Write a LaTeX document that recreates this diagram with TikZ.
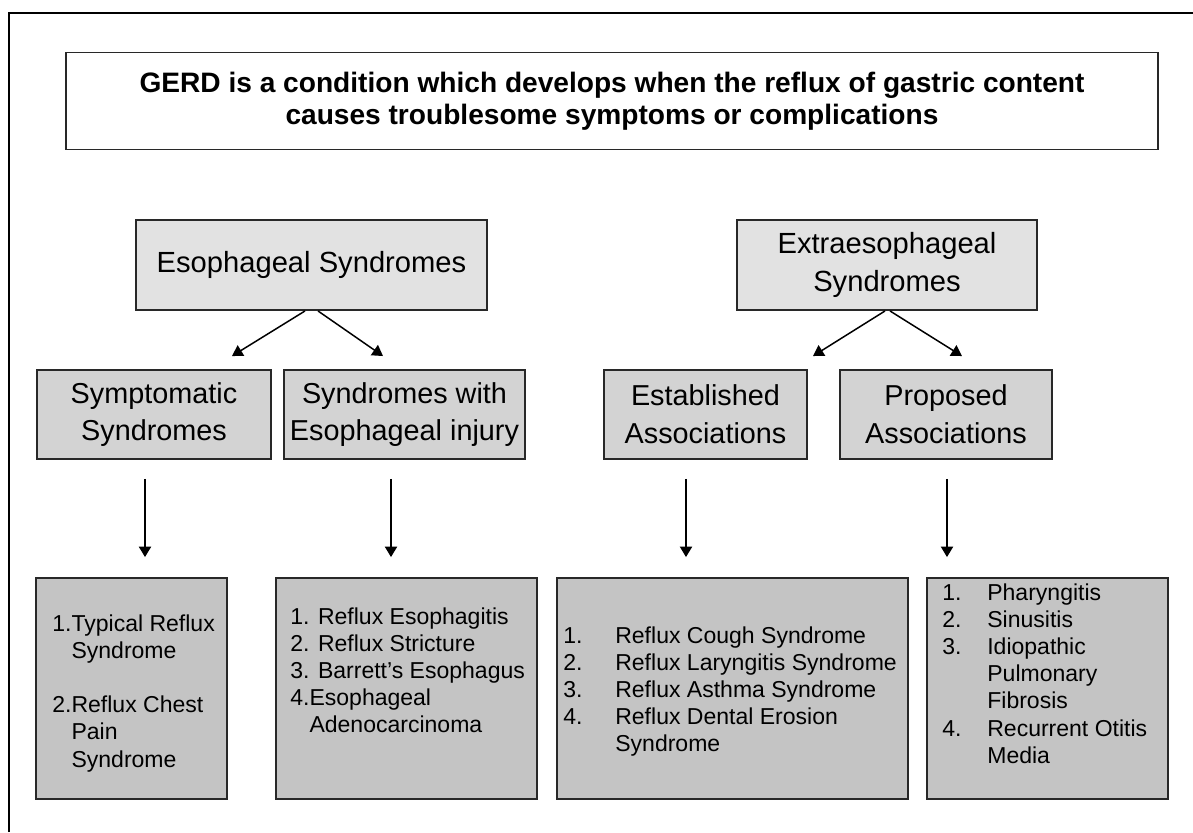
\documentclass[tikz,border=0pt]{standalone}
\usepackage{fontspec}
\setmainfont{Liberation Sans}
\usetikzlibrary{positioning,calc,arrows.meta}
\definecolor{TopGray}{RGB}{226,226,226}
\definecolor{MidGray}{RGB}{211,211,211}
\definecolor{LowGray}{RGB}{196,196,196}
\definecolor{EdgeGray}{RGB}{40,40,40}
\tikzset{
	frame/.style={draw=black,line width=1.7pt},
	headbox/.style={draw=EdgeGray,line width=1.1pt,fill=white,minimum width=21.84cm,minimum height=1.94cm,
		align=center,font=\fontsize{16}{18.3}\selectfont\bfseries},
	groupbox/.style={draw=EdgeGray,line width=1.1pt,fill=TopGray,minimum height=1.8cm,align=center,
		font=\fontsize{16.6}{21.5}\selectfont},
	kindbox/.style={draw=EdgeGray,line width=1.1pt,fill=MidGray,minimum height=1.78cm,align=center,
		font=\fontsize{16.4}{21.5}\selectfont},
	listbox/.style={draw=EdgeGray,line width=1.1pt,fill=LowGray,minimum height=4.42cm},
	listtext/.style={inner sep=0pt,anchor=base west,align=left,font=\fontsize{13.1}{15.5}\selectfont},
	arr/.style={draw=black,line width=0.85pt,-{Triangle[width=7pt,length=6pt]}},
}

\begin{document}
\begin{tikzpicture}[x=0.02cm,y=-0.02cm]
	\useasboundingbox (0,0) rectangle (1193,832);
	\draw[frame] (9,832) -- (9,13) -- (1193,13);
	% definition
	\node[headbox] (gerd) at (612,101) {GERD is a condition which develops when the reflux of gastric content\\causes troublesome symptoms or complications};
	% syndrome groups
	\node[groupbox,minimum width=7.02cm] (eso) at (311.5,265) {Esophageal Syndromes};
	\node[groupbox,minimum width=6cm] (extra) at (887,265) {Extraesophageal\\Syndromes};
	\node[kindbox,minimum width=4.68cm] (symp) at (154,414.5) {Symptomatic\\Syndromes};
	\node[kindbox,minimum width=4.7cm] (inj) at (404.5,414.5) {Syndromes with\\Esophageal injury};
	\node[kindbox,minimum width=4.06cm] (est) at (705.5,414.5) {Established\\Associations};
	\node[kindbox,minimum width=4.24cm] (prop) at (946,414.5) {Proposed\\Associations};
	% lists
	\node[listbox,minimum width=3.82cm] (sympList) at (131.5,688.5) {};
	\node[listbox,minimum width=5.22cm] (injList) at (406.5,688.5) {};
	\node[listbox,minimum width=7.02cm] (estList) at (732.5,688.5) {};
	\node[listbox,minimum width=4.82cm] (propList) at (1047.5,688.5) {};
	\node[listtext] (sympItems) at (52,631) {\begin{tabular}[t]{@{}l@{}l@{}}
		1.&Typical Reflux\\&Syndrome\\&\\
		2.&Reflux Chest\\&Pain\\&Syndrome\end{tabular}};
	\node[listtext] (injItems) at (290,624) {\begin{tabular}[t]{@{}l@{}l@{}}
		\multicolumn{2}{@{}l@{}}{1. Reflux Esophagitis}\\
		\multicolumn{2}{@{}l@{}}{2. Reflux Stricture}\\
		\multicolumn{2}{@{}l@{}}{3. Barrett's Esophagus}\\
		4.&Esophageal\\&Adenocarcinoma\end{tabular}};
	\node[listtext] (estItems) at (563,643) {\begin{tabular}[t]{@{}p{1.04cm}@{}l@{}}
		1.&Reflux Cough Syndrome\\
		2.&Reflux Laryngitis Syndrome\\
		3.&Reflux Asthma Syndrome\\
		4.&Reflux Dental Erosion\\&Syndrome\end{tabular}};
	\node[listtext] (propItems) at (942,600) {\begin{tabular}[t]{@{}p{0.9cm}@{}l@{}}
		1.&Pharyngitis\\
		2.&Sinusitis\\
		3.&Idiopathic\\&Pulmonary\\&Fibrosis\\
		4.&Recurrent Otitis\\&Media\end{tabular}};
	% arrows
	\draw[arr] ([xshift=-0.13cm]eso.south) -- ([shift={(78,-13)}]symp.north);
	\draw[arr] ([xshift=0.13cm]eso.south) -- ([shift={(-21.5,-13)}]inj.north);
	\draw[arr] ([xshift=-0.04cm]extra.south) -- ([shift={(107.5,-13)}]est.north);
	\draw[arr] ([xshift=0.06cm]extra.south) -- ([shift={(16,-13)}]prop.north);
	\coordinate (c1) at (145,0);
	\coordinate (c2) at (391,0);
	\coordinate (c3) at (686,0);
	\coordinate (c4) at (947,0);
	\foreach \a/\b/\c in {symp/sympList/c1,inj/injList/c2,est/estList/c3,prop/propList/c4}
	\draw[arr,shorten <=0.38cm,shorten >=0.4cm] (\a.south -| \c) -- (\b.north -| \c);
\end{tikzpicture}
\end{document}
